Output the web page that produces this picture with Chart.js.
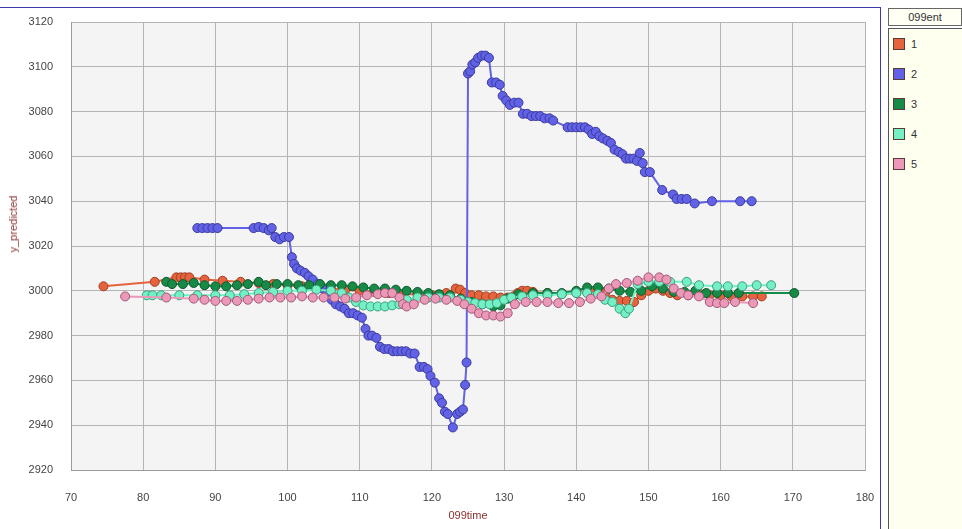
<!DOCTYPE html>
<html>
<head>
<meta charset="utf-8">
<script src="https://cdn.jsdelivr.net/npm/chart.js@4/dist/chart.umd.min.js"></script>
<style>
  html, body { margin: 0; padding: 0; background: #fff; }
  body { width: 962px; height: 529px; position: relative; overflow: hidden;
         font-family: "Liberation Sans", Arial, sans-serif; }
  #frame { position: absolute; left: 0; top: 7px; width: 880px; height: 530px;
           border-top: 1px solid #3a3aa8; border-right: 1px solid #3a3aa8; }
  #wrap { position: absolute; left: 0; top: 0; width: 880px; height: 529px; }
  #ytitle { position: absolute; left: 13px; top: 224px; transform: translate(-50%, -50%) rotate(-90deg);
            color: #8b3030; font-size: 11px; white-space: nowrap; }
  #legendHead { position: absolute; left: 888px; top: 8px; width: 72px; height: 16px;
                border: 1px solid #666; background: #fffff4; font-size: 11px; color: #333;
                text-align: center; line-height: 16px; }
  #legendBox { position: absolute; left: 888px; top: 28px; width: 80px; height: 510px;
               border-left: 1px solid #555; border-top: 1px solid #555; background: #fffff0; }
  .item { position: absolute; left: 4px; font-size: 11px; color: #333; height: 12px; line-height: 12px; }
  .item span.sw { position: absolute; left: 0; top: 0; width: 10px; height: 10px; border: 1px solid #5a3a3a; }
  .item span.lb { position: absolute; left: 18px; top: 0; }
</style>
</head>
<body>
<div id="frame"></div>
<div id="wrap"><canvas id="chart" width="880" height="529"></canvas></div>
<div id="ytitle">y_predicted</div>
<div id="legendHead">099ent</div>
<div id="legendBox"></div>
<script>
const SERIES_NAMES = ['1', '2', '3', '4', '5'];
const COLORS = ['#e5643f', '#6262e6', '#178a48', '#74f0c4', '#ec98b8'];
const EDGES  = ['#a04020', '#3a3aa0', '#0d5a2c', '#3aa080', '#a05a78'];

const X_TICKS = [70, 80, 90, 100, 110, 120, 130, 140, 150, 160, 170, 180];
const Y_TICKS = [2920, 2940, 2960, 2980, 3000, 3020, 3040, 3060, 3080, 3100, 3120];

// series 1
const time1 = [74.5, 81.6, 84.6, 85.2, 85.8, 86.4, 88.5, 91.0, 93.5, 96.0, 98.0, 100.0, 102.0, 104.0, 106.0, 108.0,
  110.0, 112.0, 114.0, 116.0, 118.0, 120.0, 122.0, 123.3, 123.9, 124.6, 125.5, 126.5, 127.5, 128.5, 129.5, 130.5,
  131.3, 131.9, 132.5, 133.2, 134.0, 136.0, 138.0, 140.0, 142.0, 144.0, 145.0, 146.0, 147.0, 148.0, 149.0, 150.0,
  151.0, 152.0, 153.0, 154.0, 155.5, 157.0, 158.5, 160.0, 161.5, 163.0, 164.5, 165.7];
const pred1 = [3002, 3004, 3006, 3006, 3006, 3006, 3005, 3004.5, 3004, 3003.5, 3003, 3002.5, 3002, 3001.5, 3001, 3000.5,
  3000, 2999.5, 2999, 2998.5, 2998.5, 2998, 2999, 3001, 3000.5, 2999, 2998, 2998, 2997.5, 2997.5, 2997, 2997,
  2997.5, 2999, 3000, 3000, 2999.5, 2999, 2998.5, 2999, 3000, 2999, 2996, 2995.5, 2995.5, 2995, 2998, 3000,
  3001, 3000, 2999, 2998, 2998, 2999, 2998, 2998, 2997.5, 2997.5, 2997.5, 2997.5];

// series 2
const time2 = [87.5, 88.2, 88.9, 89.6, 90.3, 95.3, 96.0, 96.7, 97.4, 97.8, 98.3, 98.9, 99.5, 100.2, 100.6, 100.9,
  101.3, 101.8, 102.4, 102.9, 103.5, 104.2, 104.9, 105.5, 106.1, 106.7, 107.3, 107.9, 108.5, 109.1, 109.7, 110.3,
  110.8, 111.2, 111.7, 112.3, 112.8, 113.4, 114.0, 114.6, 115.2, 115.8, 116.4, 117.0, 117.6, 118.3, 118.9, 119.4,
  119.8, 120.4, 121.0, 121.4, 121.8, 122.2, 122.9, 123.5, 123.9, 124.3, 124.6, 124.8, 125.0, 125.3, 125.6, 126.0,
  126.4, 126.9, 127.4, 127.9, 128.3, 128.9, 129.4, 129.8, 130.3, 130.8, 131.4, 132.0, 132.6, 133.2, 133.8, 134.4,
  135.0, 135.6, 136.3, 136.8, 138.8, 139.4, 140.0, 140.6, 141.2, 141.7, 142.2, 142.7, 143.2, 143.7, 144.3, 144.8,
  145.3, 145.9, 146.4, 146.9, 147.4, 147.9, 148.4, 148.8, 149.2, 149.5, 150.2, 151.9, 153.4, 153.9, 154.6, 155.3,
  156.4, 158.8, 162.7, 164.3];
const pred2 = [3028, 3028, 3028, 3028, 3028, 3028, 3028.5, 3028, 3027, 3028, 3024, 3023, 3024, 3024, 3015, 3012,
  3010, 3009, 3008, 3006.5, 3005, 3003, 3001, 2999, 2996, 2994, 2993, 2992, 2990, 2990, 2989, 2988,
  2983, 2980, 2980, 2979, 2975, 2974, 2974, 2973, 2973, 2973, 2973, 2972, 2972, 2966, 2966, 2965,
  2962, 2959, 2952, 2950, 2946, 2945, 2939, 2945, 2946, 2947, 2958, 2968, 3097, 3098, 3101, 3102,
  3104, 3105, 3105, 3104, 3093, 3093, 3092, 3087, 3085, 3083, 3084, 3084, 3079, 3079, 3078, 3078,
  3078, 3077, 3077, 3076, 3073, 3073, 3073, 3073, 3073, 3072, 3070, 3071, 3069, 3068, 3067, 3066,
  3063, 3062, 3061, 3059, 3059, 3059, 3058, 3061.5, 3057, 3053, 3053, 3045, 3043, 3041, 3041, 3041,
  3039, 3040, 3040, 3040];

// series 3
const time3 = [83.2, 84.0, 85.5, 87.0, 88.5, 90.0, 91.5, 93.0, 94.5, 96.0, 97.0, 98.5, 100.0, 101.5, 103.0, 104.5,
  106.0, 107.5, 109.0, 110.5, 112.0, 113.5, 115.0, 116.5, 118.0, 119.5, 121.0, 122.5, 124.0, 125.5, 127.0, 128.5,
  129.5, 130.5, 132.0, 134.0, 136.0, 138.0, 140.0, 141.5, 143.0, 144.5, 146.0, 147.5, 149.0, 150.5, 152.0, 153.5,
  155.0, 156.5, 158.0, 159.5, 161.0, 162.5, 170.2];
const pred3 = [3004, 3003, 3003, 3003.5, 3002.5, 3002, 3002, 3002.5, 3003, 3004, 3002.5, 3003, 3003, 3002.5, 3002.5, 3003,
  3002.5, 3002.5, 3002, 3001.5, 3001, 3001, 3000.5, 3000, 2999.5, 2999, 2998.5, 2998, 2996.5, 2995, 2994, 2993,
  2993.5, 2996.5, 2998.5, 2999, 2999, 2999, 3000, 3001.5, 3001.5, 3001, 3000, 2999.5, 3000, 3002, 3001, 2999.5,
  2999.5, 3000, 2999, 2999, 2999, 2999, 2999];

// series 4
const time4 = [80.5, 81.3, 82.5, 85.0, 87.5, 90.0, 92.0, 94.0, 96.0, 98.0, 100.0, 102.0, 104.0, 106.0, 107.5, 108.5,
  109.5, 110.5, 111.5, 112.5, 113.5, 114.5, 115.5, 116.5, 118.0, 119.5, 121.0, 122.5, 124.0, 125.0, 126.0, 127.0,
  128.0, 129.0, 130.0, 131.0, 132.5, 134.0, 136.0, 138.0, 140.0, 141.5, 143.0, 144.0, 145.0, 146.0, 146.8, 147.3,
  148.5, 150.0, 151.5, 153.0, 155.3, 157.0, 159.5, 161.0, 163.0, 165.0, 167.0];
const pred4 = [2998, 2998, 2998, 2998, 2998, 2998, 2998, 2998.5, 2999, 2999.5, 3000, 3000, 3000.5, 3000, 2999, 2997,
  2995, 2993.5, 2993, 2993, 2993, 2993.5, 2994, 2996, 2997, 2997, 2997, 2997, 2996, 2995, 2994.5, 2994,
  2994, 2994.5, 2996, 2997, 2997.5, 2998, 2998, 2998.5, 2999, 2999, 2998.5, 2996, 2995, 2992, 2990, 2992,
  3003, 3004, 3004, 3004, 3004, 3002.5, 3002, 3002, 3002, 3002.5, 3002.5];

// series 5
const time5 = [77.5, 83.2, 87.0, 88.5, 90.0, 91.5, 93.0, 94.5, 96.0, 97.5, 99.0, 100.5, 102.0, 103.5, 105.0, 106.5,
  108.0, 109.5, 111.0, 112.5, 113.5, 114.5, 115.5, 116.0, 116.5, 117.5, 119.0, 120.5, 122.0, 123.5, 124.5, 125.5,
  126.5, 127.5, 128.5, 129.5, 130.5, 131.5, 133.0, 134.5, 136.0, 137.5, 139.0, 140.5, 142.0, 143.5, 144.5, 145.5,
  147.0, 148.5, 150.0, 151.5, 152.5, 153.5, 154.5, 155.5, 157.0, 158.5, 159.5, 160.5, 162.0, 164.5];
const pred5 = [2997.5, 2997, 2996.5, 2996, 2995.5, 2995.5, 2995.5, 2996, 2996.5, 2997, 2997, 2997, 2997.5, 2997, 2997, 2997,
  2996.5, 2997, 2998, 2998.5, 2999, 2999, 2997, 2994, 2993, 2994, 2996, 2996.5, 2996, 2995.5, 2994, 2992,
  2990, 2989, 2989, 2988.5, 2990, 2994, 2995, 2995, 2995, 2994.5, 2994.5, 2995, 2996.5, 2997.5, 3001, 3003,
  3003.5, 3004.5, 3006, 3006, 3005, 3001, 2999, 2998, 2997.5, 2995, 2994.5, 2994.5, 2995, 2994.5];

const TIMES = [time1, time2, time3, time4, time5];
const PREDS = [pred1, pred2, pred3, pred4, pred5];

// legend panel (html)
const legendBox = document.getElementById('legendBox');
SERIES_NAMES.forEach((name, i) => {
  const div = document.createElement('div');
  div.className = 'item';
  div.style.top = (9 + i * 30) + 'px';
  div.innerHTML = '<span class="sw" style="background:' + COLORS[i] + '"></span><span class="lb">' + name + '</span>';
  legendBox.appendChild(div);
});

const datasets = SERIES_NAMES.map((name, i) => ({
  label: name,
  data: TIMES[i].map((t, k) => ({ x: t, y: PREDS[i][k] })),
  borderColor: COLORS[i],
  backgroundColor: COLORS[i],
  borderWidth: 2,
  pointRadius: 4.5,
  pointBorderColor: EDGES[i],
  pointBorderWidth: 1,
  pointBackgroundColor: COLORS[i],
  showLine: true,
  tension: 0,
  order: 5 - i,
}));

const plotBg = {
  id: 'plotBg',
  beforeDraw(chart) {
    const { ctx, chartArea: a } = chart;
    ctx.save();
    ctx.fillStyle = '#f4f4f4';
    ctx.fillRect(a.left, a.top, a.right - a.left, a.bottom - a.top);
    ctx.restore();
  },
};

const TICK_FONT = { family: '"Liberation Sans", Arial, sans-serif', size: 11 };

// no overhang padding from edge labels; layout padding alone sets the plot box
function noEdgePad(s) {
  s.paddingLeft = 0; s.paddingRight = 0; s.paddingTop = 0; s.paddingBottom = 0;
}

new Chart(document.getElementById('chart'), {
  type: 'scatter',
  data: { datasets },
  plugins: [plotBg],
  options: {
    responsive: false,
    animation: false,
    layout: { padding: { left: 0, top: 22, right: 15, bottom: 0 } },
    plugins: { legend: { display: false }, tooltip: { enabled: false } },
    scales: {
      x: {
        type: 'linear',
        min: 70, max: 180,
        afterBuildTicks: s => { s.ticks = X_TICKS.map(v => ({ value: v })); },
        afterFit: s => { s.height = 59; noEdgePad(s); },
        grid: { color: '#b4b4b4', drawTicks: false },
        border: { color: '#9a9a9a' },
        ticks: { color: '#444', font: TICK_FONT, padding: 21, maxRotation: 0, callback: v => String(v) },
        title: { display: true, text: '099time', color: '#8b3030', font: TICK_FONT,
                 padding: { top: 0, bottom: 6 } },
      },
      y: {
        type: 'linear',
        min: 2920, max: 3120,
        afterBuildTicks: s => { s.ticks = Y_TICKS.map(v => ({ value: v })); },
        afterFit: s => { s.width = 71; noEdgePad(s); },
        grid: { color: '#b4b4b4', drawTicks: false },
        border: { color: '#9a9a9a' },
        ticks: { color: '#444', font: TICK_FONT, padding: 18, callback: v => String(v) },
      },
    },
  },
});
</script>
</body>
</html>
